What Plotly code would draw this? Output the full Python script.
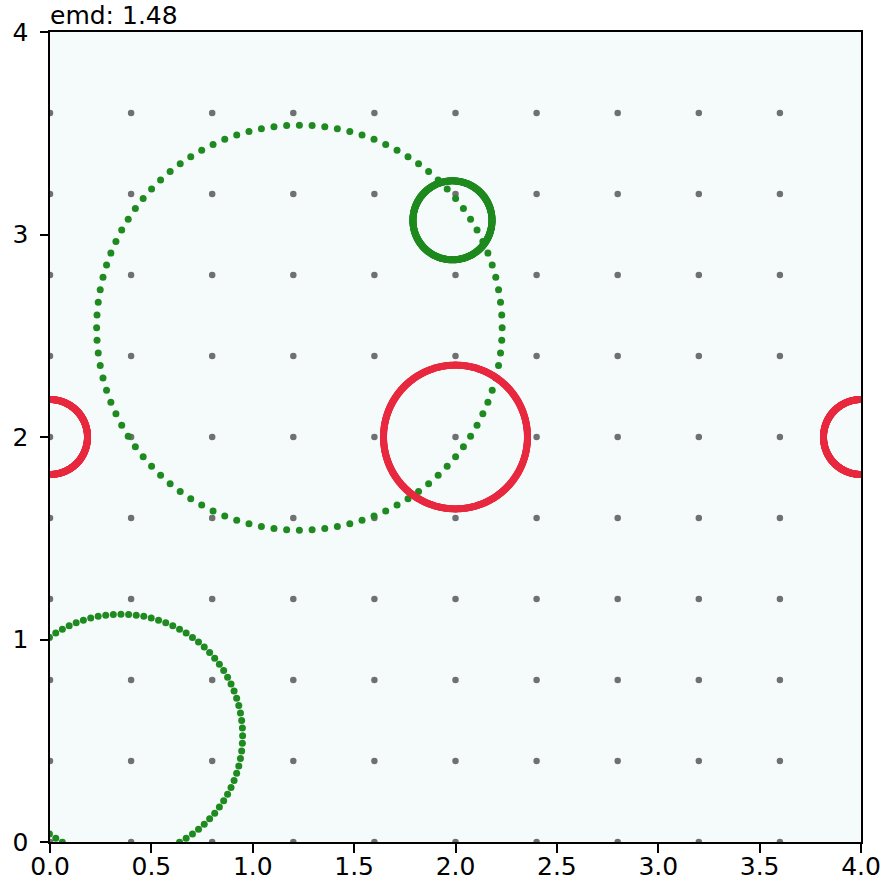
import numpy as np
import plotly.graph_objects as go

# grid of gray points
grid_x = [0.0, 0.4, 0.8, 1.2, 1.6, 2.0, 2.4, 2.8, 3.2, 3.6]
grid_y = [0.0, 0.4, 0.8, 1.2, 1.6, 2.0, 2.4, 2.8, 3.2, 3.6]

# green dotted circles (centers, radii)
dotted_cx = [1.23, 0.35]
dotted_cy = [2.54, 0.525]
dotted_r = [1.0, 0.6]

# green solid circle
solid_cx = [1.985]
solid_cy = [3.07]
solid_r = [0.195]

# red circles
red_cx = [2.0, 0.0, 4.0]
red_cy = [2.0, 2.0, 2.0]
red_r = [0.355, 0.185, 0.185]

x_ticks = [0.0, 0.5, 1.0, 1.5, 2.0, 2.5, 3.0, 3.5, 4.0]
x_tick_labels = ["0.0", "0.5", "1.0", "1.5", "2.0", "2.5", "3.0", "3.5", "4.0"]
y_ticks = [0, 1, 2, 3, 4]
y_tick_labels = ["0", "1", "2", "3", "4"]
title_text = "emd: 1.48"

GREEN = "#1f8a1f"
RED = "#e8293f"
GRAY = "#6e7072"


def circle_pts(cx, cy, r, n):
    t = np.linspace(0, 2 * np.pi, n, endpoint=False)
    return cx + r * np.cos(t), cy + r * np.sin(t)


fig = go.Figure()

gx, gy = np.meshgrid(grid_x, grid_y)
fig.add_trace(go.Scatter(x=gx.ravel(), y=gy.ravel(), mode="markers",
                         marker=dict(size=6.5, color=GRAY), hoverinfo="skip"))

for cx, cy, r in zip(dotted_cx, dotted_cy, dotted_r):
    px, py = circle_pts(cx, cy, r, 100)
    fig.add_trace(go.Scatter(x=px, y=py, mode="markers",
                             marker=dict(size=7, color=GREEN)))

for cx, cy, r in zip(solid_cx, solid_cy, solid_r):
    px, py = circle_pts(cx, cy, r, 400)
    fig.add_trace(go.Scatter(x=px, y=py, mode="markers",
                             marker=dict(size=7, color=GREEN)))

for cx, cy, r in zip(red_cx, red_cy, red_r):
    px, py = circle_pts(cx, cy, r, 500)
    fig.add_trace(go.Scatter(x=px, y=py, mode="markers",
                             marker=dict(size=7, color=RED)))

axis_common = dict(showgrid=False, zeroline=False, showline=True, mirror=True,
                   linecolor="black", linewidth=2, ticks="outside", ticklen=8.5,
                   tickwidth=2, tickcolor="black", automargin=False,
                   tickfont=dict(family="DejaVu Sans", size=25, color="black"))

fig.update_layout(
    width=891, height=883,
    margin=dict(l=50, r=30, t=32, b=41),
    paper_bgcolor="white",
    plot_bgcolor="#f5fbfb",
    showlegend=False,
    title=dict(text=title_text, x=50 / 891, xanchor="left", y=1 - 15.5 / 883,
               yanchor="middle", font=dict(family="DejaVu Sans", size=25, color="black")),
    xaxis=dict(range=[0, 4], tickvals=x_ticks, ticktext=x_tick_labels,
               ticklabelstandoff=-8, **axis_common),
    yaxis=dict(range=[0, 4], tickvals=y_ticks, ticktext=y_tick_labels,
               ticklabelstandoff=6, **axis_common),
)

fig.write_html("out.html",
               config={"displayModeBar": False},
               post_script="document.body.style.margin='0';"
                           "document.body.style.overflow='hidden';")
